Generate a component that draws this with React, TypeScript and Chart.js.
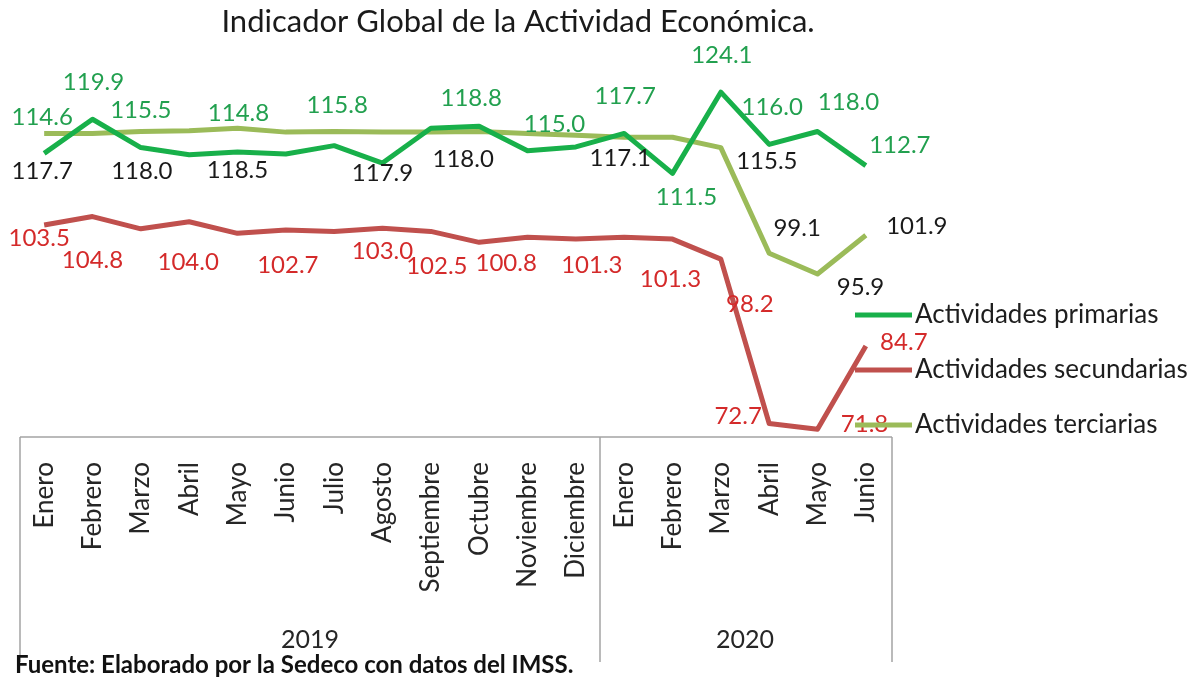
import React, { useEffect, useRef } from 'react';
import { Chart, registerables } from 'chart.js';

Chart.register(...registerables);

const months = [
  'Enero', 'Febrero', 'Marzo', 'Abril', 'Mayo', 'Junio', 'Julio', 'Agosto', 'Septiembre',
  'Octubre', 'Noviembre', 'Diciembre', 'Enero', 'Febrero', 'Marzo', 'Abril', 'Mayo', 'Junio',
];
const years = ['2019', '2020'];
const yearSpans = [12, 6];

const primarias = [114.6, 119.9, 115.5, 114.4, 114.8, 114.5, 115.8, 113.1, 118.5, 118.8, 115.0, 115.6, 117.7, 111.5, 124.1, 116.0, 118.0, 112.7];
const secundarias = [103.5, 104.8, 102.9, 104.0, 102.2, 102.7, 102.5, 103.0, 102.5, 100.8, 101.6, 101.3, 101.6, 101.3, 98.2, 72.7, 71.8, 84.7];
const terciarias = [117.7, 117.7, 118.0, 118.1, 118.5, 117.9, 118.0, 117.9, 117.9, 118.0, 117.7, 117.4, 117.1, 117.1, 115.5, 99.1, 95.9, 101.9];

const seriesNames = ['Actividades primarias', 'Actividades secundarias', 'Actividades terciarias'];
const titleText = 'Indicador Global de la Actividad Económica.';
const sourceText = 'Fuente: Elaborado por la Sedeco con datos del IMSS.';

// which points carry a value label, and where the label sits relative to its point [index, dx, dy]
const primLabelPlaces: number[][] = [
  [0, -2, -36], [1, 1, -37], [2, 0, -37], [4, 1, -39], [6, 3, -40], [9, -8, -28], [10, 27, -27],
  [12, 1, -37], [13, 14, 24], [14, 1, -37], [15, 3, -37], [16, 31, -29], [17, 34, -20],
];
const secLabelPlaces: number[][] = [
  [0, -5, 13], [1, 0, 44], [3, -1, 41], [5, 2, 35], [7, 0, 23], [8, 6, 35], [9, 27, 21],
  [11, 16, 26], [13, -2, 40], [14, 29, 45], [15, -31, -7], [16, 47, -5], [17, 38, -4],
];
const terLabelPlaces: number[][] = [
  [0, -2, 38], [2, 1, 40], [4, 0, 42], [7, 0, 41], [9, -16, 28], [12, -4, 21],
  [14, 46, 14], [15, 28, -25], [16, 43, 13], [17, 51, -9],
];

const lineColors = ['#18b04a', '#c0504d', '#9bbb59'];
const labelColors = ['#22a04f', '#d42a2a', '#1a1a1a'];
const FONT = 'Lato, "Noto Sans", sans-serif';

const decorPlugin = {
  id: 'decor',
  afterDatasetsDraw(chart: any) {
    const ctx = chart.ctx;
    const places = [primLabelPlaces, secLabelPlaces, terLabelPlaces];
    ctx.save();
    ctx.font = `24px ${FONT}`;
    ctx.textAlign = 'center';
    ctx.textBaseline = 'middle';
    places.forEach((list, d) => {
      const meta = chart.getDatasetMeta(d);
      const values = chart.data.datasets[d].data as number[];
      ctx.fillStyle = labelColors[d];
      list.forEach(([i, dx, dy]) => {
        const pt = meta.data[i];
        ctx.fillText(values[i].toFixed(1), pt.x + dx, pt.y + dy);
      });
    });
    ctx.restore();
  },
  afterDraw(chart: any) {
    const ctx = chart.ctx;
    const area = chart.chartArea;
    const x = chart.scales.x;
    const half = (x.getPixelForValue(1) - x.getPixelForValue(0)) / 2;
    const axisBottom = 662;
    ctx.save();

    // title
    ctx.fillStyle = '#1a1a1a';
    ctx.font = `31px ${FONT}`;
    ctx.textAlign = 'center';
    ctx.textBaseline = 'middle';
    ctx.fillText(titleText, 518, 22);

    // category axis box
    ctx.strokeStyle = '#a3a3a3';
    ctx.lineWidth = 1.5;
    ctx.beginPath();
    ctx.moveTo(area.left, area.bottom);
    ctx.lineTo(area.right + 2, area.bottom);
    ctx.stroke();
    let start = 0;
    const bounds: number[] = [x.getPixelForValue(0) - half];
    yearSpans.forEach((span) => {
      start += span;
      bounds.push(x.getPixelForValue(start - 1) + half);
    });
    bounds.forEach((bx, k) => {
      const px = k === bounds.length - 1 ? bx + 2 : bx;
      ctx.beginPath();
      ctx.moveTo(px, area.bottom);
      ctx.lineTo(px, axisBottom);
      ctx.stroke();
    });
    ctx.fillStyle = '#262626';
    ctx.font = `25px ${FONT}`;
    years.forEach((yr, k) => {
      ctx.fillText(yr, (bounds[k] + bounds[k + 1]) / 2, 640);
    });

    // legend
    ctx.textAlign = 'left';
    seriesNames.forEach((name, d) => {
      const ly = 315 + 55 * d;
      ctx.strokeStyle = lineColors[d];
      ctx.lineWidth = 5;
      ctx.beginPath();
      ctx.moveTo(area.right - 35, ly);
      ctx.lineTo(area.right + 22, ly);
      ctx.stroke();
      ctx.fillStyle = '#1e1e1e';
      ctx.font = `26px ${FONT}`;
      ctx.fillText(name, area.right + 25, ly);
    });

    // source
    ctx.fillStyle = '#111111';
    ctx.font = `bold 24px ${FONT}`;
    ctx.fillText(sourceText, 15, 665);
    ctx.restore();
  },
};

export default function App() {
  const ref = useRef<HTMLCanvasElement>(null);

  useEffect(() => {
    if (!ref.current) return;
    const chart = new Chart(ref.current, {
      type: 'line',
      data: {
        labels: months,
        datasets: [
          { label: seriesNames[0], data: primarias, borderColor: lineColors[0], backgroundColor: lineColors[0], borderWidth: 5, pointRadius: 0, tension: 0, borderJoinStyle: 'round' },
          { label: seriesNames[1], data: secundarias, borderColor: lineColors[1], backgroundColor: lineColors[1], borderWidth: 5, pointRadius: 0, tension: 0, borderJoinStyle: 'round' },
          { label: seriesNames[2], data: terciarias, borderColor: lineColors[2], backgroundColor: lineColors[2], borderWidth: 5, pointRadius: 0, tension: 0, borderJoinStyle: 'round' },
        ],
      },
      options: {
        responsive: false,
        animation: false,
        devicePixelRatio: 1,
        layout: { padding: { top: 58, left: 20, right: 297, bottom: 0 } },
        plugins: {
          legend: { display: false },
          title: { display: false },
          tooltip: { enabled: false },
        },
        scales: {
          x: {
            type: 'category',
            offset: true,
            grid: { display: false, drawTicks: false },
            border: { display: false },
            ticks: {
              autoSkip: false,
              minRotation: 90,
              maxRotation: 90,
              padding: 25,
              color: '#262626',
              font: { family: FONT, size: 26 },
            },
            afterFit: (s: any) => { s.height = 242; },
          },
          y: {
            display: false,
            min: 70.6,
            max: 129.4,
          },
        },
      },
      plugins: [decorPlugin],
    } as any);
    return () => chart.destroy();
  }, []);

  return (
    <div style={{ position: 'absolute', left: 0, top: 0, width: 1187, height: 679, background: '#ffffff' }}>
      <canvas ref={ref} width={1187} height={679} style={{ display: 'block' }} />
    </div>
  );
}
